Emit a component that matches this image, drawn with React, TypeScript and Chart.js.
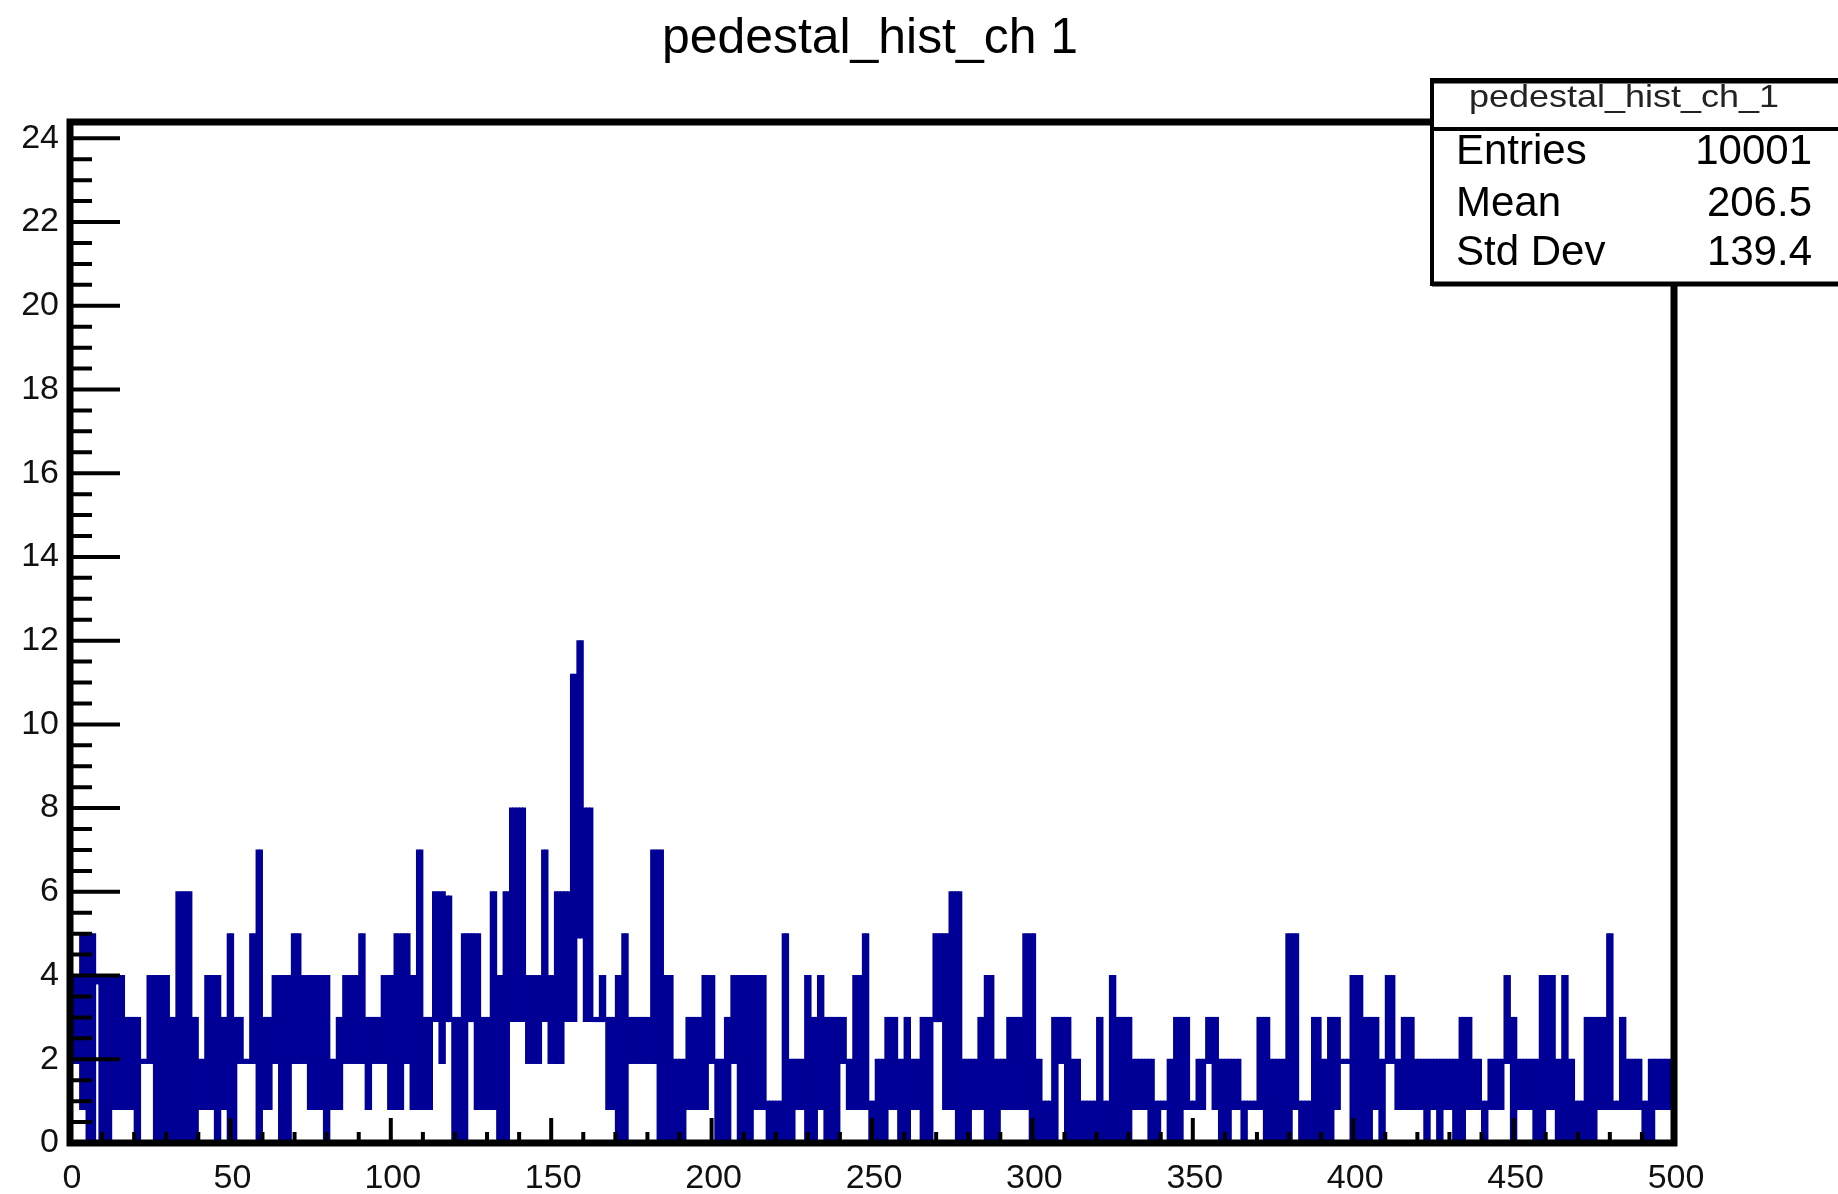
import React, { useEffect, useRef } from "react";
import { Chart, registerables } from "chart.js";

Chart.register(...registerables);

const TITLE = "pedestal_hist_ch 1";
const STATS_NAME = "pedestal_hist_ch_1";
const STATS_LABELS = ["Entries", "Mean", "Std Dev"];
const STATS_VALUES = ["10001", "206.5", "139.4"];

const X_MIN = 0;
const X_MAX = 500;
const Y_MIN = 0;
const Y_MAX = 24.39;
const X_TICK_LABELS = [0, 50, 100, 150, 200, 250, 300, 350, 400, 450, 500];
const Y_TICK_LABELS = [0, 2, 4, 6, 8, 10, 12, 14, 16, 18, 20, 22, 24];
const X_MINOR_STEP = 10;
const Y_MINOR_STEP = 0.5;

// upper edge of the blue fill in each unit-wide column (bin 0..499)
const BIN_HIGH = [
  4, 4, 4, 5, 5, 5, 5, 5, 4, 4,
  4, 4, 4, 4, 4, 4, 4, 3, 3, 3,
  3, 3, 2, 2, 4, 4, 4, 4, 4, 4,
  4, 3, 3, 6, 6, 6, 6, 6, 3, 3,
  2, 2, 4, 4, 4, 4, 4, 3, 3, 5,
  5, 3, 3, 3, 2, 2, 5, 5, 7, 7,
  3, 3, 3, 4, 4, 4, 4, 4, 4, 5,
  5, 5, 4, 4, 4, 4, 4, 4, 4, 4,
  4, 2, 2, 3, 3, 4, 4, 4, 4, 4,
  5, 5, 3, 3, 3, 3, 3, 4, 4, 4,
  4, 5, 5, 5, 5, 5, 4, 4, 7, 7,
  3, 3, 3, 6, 6, 6, 6, 5.9, 5.9, 3,
  3, 3, 5, 5, 5, 5, 5, 5, 3, 3,
  3, 6, 6, 4, 4, 6, 6, 8, 8, 8,
  8, 8, 4, 4, 4, 4, 4, 7, 7, 4,
  4, 6, 6, 6, 6, 6, 11.2, 11.2, 12, 12,
  8, 8, 8, 3, 3, 4, 4, 3, 3, 3,
  4, 4, 5, 5, 3, 3, 3, 3, 3, 3,
  3, 7, 7, 7, 7, 4, 4, 4, 2, 2,
  2, 2, 3, 3, 3, 3, 3, 4, 4, 4,
  4, 2, 2, 2, 3, 3, 4, 4, 4, 4,
  4, 4, 4, 4, 4, 4, 4, 1, 1, 1,
  1, 1, 5, 5, 2, 2, 2, 2, 2, 4,
  4, 3, 3, 4, 4, 3, 3, 3, 3, 3,
  3, 3, 2, 2, 4, 4, 4, 5, 5, 1,
  1, 2, 2, 2, 3, 3, 3, 3, 2, 2,
  3, 3, 2, 2, 2, 3, 3, 3, 3, 5,
  5, 5, 5, 5, 6, 6, 6, 6, 2, 2,
  2, 2, 2, 3, 3, 4, 4, 4, 2, 2,
  2, 2, 3, 3, 3, 3, 3, 5, 5, 5,
  5, 2, 2, 1, 1, 1, 3, 3, 3, 3,
  3, 3, 2, 2, 2, 1, 1, 1, 1, 1,
  3, 3, 1, 1, 4, 4, 3, 3, 3, 3,
  3, 2, 2, 2, 2, 2, 2, 2, 1, 1,
  1, 1, 2, 2, 3, 3, 3, 3, 3, 1,
  1, 2, 2, 2, 3, 3, 3, 3, 2, 2,
  2, 2, 2, 2, 2, 1, 1, 1, 1, 1,
  3, 3, 3, 3, 2, 2, 2, 2, 2, 5,
  5, 5, 5, 1, 1, 1, 1, 3, 3, 3,
  2, 2, 3, 3, 3, 3, 2, 2, 2, 4,
  4, 4, 4, 3, 3, 3, 3, 3, 2, 2,
  4, 4, 4, 2, 2, 3, 3, 3, 3, 2,
  2, 2, 2, 2, 2, 2, 2, 2, 2, 2,
  2, 2, 2, 3, 3, 3, 3, 2, 2, 2,
  1, 1, 2, 2, 2, 2, 2, 4, 4, 3,
  3, 2, 2, 2, 2, 2, 2, 2, 4, 4,
  4, 4, 4, 2, 2, 4, 4, 2, 2, 1,
  1, 1, 3, 3, 3, 3, 3, 3, 3, 5,
  5, 1, 1, 3, 3, 2, 2, 2, 2, 2,
  1, 1, 2, 2, 2, 2, 2, 2, 2, 2,
];

// lower edge of the blue fill in each column (white gap below it)
const BIN_LOW = [
  1.9, 1.9, 1.9, 0.8, 0.8, 0, 0, 0, 3.8, 0,
  0, 0, 0, 0.8, 0.8, 0.8, 0.8, 0.8, 0.8, 0.8,
  0, 0, 1.9, 1.9, 1.9, 1.9, 0, 0, 0, 0,
  0, 0, 0, 0, 0, 0, 0, 0, 0, 0,
  0.8, 0.8, 0.8, 0.8, 0.8, 0, 0, 0.8, 0.8, 0,
  0, 0, 1.9, 1.9, 1.9, 1.9, 1.9, 1.9, 0, 0,
  0.8, 0.8, 0.8, 1.9, 1.9, 0, 0, 0, 0, 1.9,
  1.9, 1.9, 1.9, 1.9, 0.8, 0.8, 0.8, 0.8, 0.8, 0,
  0, 0.8, 0.8, 0.8, 0.8, 1.9, 1.9, 1.9, 1.9, 1.9,
  1.9, 1.9, 0.8, 0.8, 1.9, 1.9, 1.9, 1.9, 1.9, 0.8,
  0.8, 0.8, 0.8, 0.8, 1.9, 1.9, 0.8, 0.8, 0.8, 0.8,
  0.8, 0.8, 0.8, 2.9, 2.9, 1.9, 1.9, 2.9, 2.9, 0,
  0, 0, 0, 0, 2.9, 2.9, 0.8, 0.8, 0.8, 0.8,
  0.8, 0.8, 0.8, 0, 0, 0, 0, 2.9, 2.9, 2.9,
  2.9, 2.9, 1.9, 1.9, 1.9, 1.9, 1.9, 2.9, 2.9, 1.9,
  1.9, 1.9, 1.9, 1.9, 2.9, 2.9, 2.9, 2.9, 4.9, 4.9,
  2.9, 2.9, 2.9, 2.9, 2.9, 2.9, 2.9, 0.8, 0.8, 0.8,
  0, 0, 0, 0, 1.9, 1.9, 1.9, 1.9, 1.9, 1.9,
  1.9, 1.9, 1.9, 0, 0, 0, 0, 0, 0, 0,
  0, 0, 0.8, 0.8, 0.8, 0.8, 0.8, 0.8, 0.8, 1.9,
  1.9, 0, 0, 0, 0, 0, 1.9, 1.9, 0, 0,
  0, 0, 0, 0.8, 0.8, 0.8, 0.8, 0, 0, 0,
  0, 0, 0, 0, 0, 0, 0.8, 0.8, 0.8, 0,
  0, 0, 0, 0.8, 0.8, 0, 0, 0, 0, 0,
  1.9, 1.9, 0.8, 0.8, 0.8, 0.8, 0.8, 0.8, 0.8, 0,
  0, 0, 0, 0, 0, 0.8, 0.8, 0.8, 0, 0,
  0, 0, 0.8, 0.8, 0.8, 0, 0, 0, 0, 2.9,
  2.9, 2.9, 0.8, 0.8, 0.8, 0.8, 0, 0, 0, 0,
  0, 0.8, 0.8, 0.8, 0.8, 0, 0, 0, 0, 0,
  0.8, 0.8, 0.8, 0.8, 0.8, 0.8, 0.8, 0.8, 0.8, 0,
  0, 0, 0, 0, 0, 0, 0, 0, 1.9, 1.9,
  0, 0, 0, 0, 0, 0, 0, 0, 0, 0,
  0, 0, 0, 0, 0, 0, 0, 0, 0, 0,
  0, 0.8, 0.8, 0.8, 0.8, 0.8, 0, 0, 0, 0,
  0.8, 0.8, 0, 0, 0, 0, 0, 0.8, 0.8, 0.8,
  0.8, 0.8, 0.8, 0.8, 1.9, 1.9, 0.8, 0.8, 0, 0,
  0, 0, 0.8, 0.8, 0.8, 0, 0, 0.8, 0.8, 0.8,
  0.8, 0.8, 0, 0, 0, 0, 0, 0, 0, 0,
  0, 0.8, 0.8, 0, 0, 0, 0, 0, 0, 0,
  0, 0, 0, 0, 0.8, 0.8, 1.9, 1.9, 1.9, 0,
  0, 0, 0, 0, 0, 0, 0.8, 0.8, 0, 0,
  1.9, 1.9, 1.9, 0.8, 0.8, 0.8, 0.8, 0.8, 0.8, 0.8,
  0.8, 0.8, 0, 0, 0.8, 0.8, 0, 0, 0.8, 0.8,
  0.8, 0, 0, 0, 0, 0.8, 0.8, 0.8, 0.8, 0.8,
  0, 0, 0.8, 0.8, 0.8, 0.8, 0.8, 1.9, 1.9, 0,
  0, 0.8, 0.8, 0.8, 0.8, 0.8, 0, 0, 0, 0,
  0.8, 0.8, 0.8, 0, 0, 0, 0, 0, 0, 0,
  0, 0, 0, 0, 0, 0, 0.8, 0.8, 0.8, 0.8,
  0.8, 0.8, 0.8, 0.8, 0.8, 0.8, 0.8, 0.8, 0.8, 0.8,
  0, 0, 0, 0, 0.8, 0.8, 0.8, 0.8, 0.8, 0.8,
];

const FILL = "#000096";
const FONT = '"Liberation Sans", Arial, Helvetica, sans-serif';

const rootPlotPlugin = {
  id: "rootPlotDecor",
  afterDatasetsDraw(chart: any) {
    const ctx = chart.ctx as CanvasRenderingContext2D;
    const xs = chart.scales.x;
    const ys = chart.scales.y;
    const area = chart.chartArea;
    const W = chart.width;
    ctx.save();
    ctx.strokeStyle = "#000";
    ctx.fillStyle = "#111";

    // y ticks (inward)
    ctx.lineWidth = 4;
    ctx.beginPath();
    for (let v = Y_MIN; v <= Y_MAX + 1e-6; v += Y_MINOR_STEP) {
      const y = ys.getPixelForValue(v);
      const major = Math.abs(v / 2 - Math.round(v / 2)) < 1e-6;
      ctx.moveTo(area.left, y);
      ctx.lineTo(area.left + (major ? 50 : 22), y);
    }
    ctx.stroke();

    // x ticks (inward)
    ctx.beginPath();
    for (let v = X_MIN; v <= X_MAX + 1e-6; v += X_MINOR_STEP) {
      const x = xs.getPixelForValue(v);
      const major = v % 50 === 0;
      ctx.moveTo(x, area.bottom);
      ctx.lineTo(x, area.bottom - (major ? 25 : 11));
    }
    ctx.stroke();

    // frame
    ctx.lineWidth = 7;
    ctx.strokeRect(area.left, area.top, area.right - area.left, area.bottom - area.top);

    // tick labels
    ctx.font = `34px ${FONT}`;
    ctx.textAlign = "right";
    ctx.textBaseline = "middle";
    Y_TICK_LABELS.forEach((v) => {
      ctx.fillText(String(v), area.left - 11, ys.getPixelForValue(v));
    });
    ctx.textAlign = "center";
    ctx.textBaseline = "alphabetic";
    X_TICK_LABELS.forEach((v) => {
      ctx.fillText(String(v), xs.getPixelForValue(v) + 2, 1188);
    });

    // title
    ctx.font = `50px ${FONT}`;
    ctx.fillStyle = "#000";
    const tw = ctx.measureText(TITLE).width;
    ctx.save();
    ctx.translate(870, 53);
    ctx.scale(416 / tw, 1);
    ctx.textAlign = "center";
    ctx.fillText(TITLE, 0, 0);
    ctx.restore();

    // stats box
    const bx = 1432, by = 80, bb = 284;
    ctx.fillStyle = "#fff";
    ctx.fillRect(bx, by, W - bx + 10, bb - by);
    ctx.lineWidth = 4;
    ctx.strokeStyle = "#000";
    ctx.strokeRect(bx, by, W - bx + 10, bb - by);
    ctx.lineWidth = 5;
    ctx.beginPath();
    ctx.moveTo(bx, by + 1);
    ctx.lineTo(W, by + 1);
    ctx.moveTo(bx, bb);
    ctx.lineTo(W, bb);
    ctx.stroke();
    ctx.lineWidth = 4;
    ctx.beginPath();
    ctx.moveTo(bx, 129);
    ctx.lineTo(W, 129);
    ctx.stroke();

    ctx.fillStyle = "#222";
    ctx.font = `32px ${FONT}`;
    const hw = ctx.measureText(STATS_NAME).width;
    ctx.save();
    ctx.translate(1624, 98);
    ctx.scale(310 / hw, 1);
    ctx.textAlign = "center";
    ctx.textBaseline = "middle";
    ctx.fillText(STATS_NAME, 0, 0);
    ctx.restore();

    ctx.fillStyle = "#000";
    ctx.font = `42px ${FONT}`;
    ctx.textBaseline = "middle";
    const rowsY = [152, 204, 253];
    STATS_LABELS.forEach((lab, i) => {
      ctx.textAlign = "left";
      ctx.fillText(lab, 1456, rowsY[i]);
      ctx.textAlign = "right";
      ctx.fillText(STATS_VALUES[i], 1812, rowsY[i]);
    });

    ctx.restore();
  },
};

export default function App() {
  const canvasRef = useRef<HTMLCanvasElement | null>(null);

  useEffect(() => {
    document.body.style.margin = "0";
    document.body.style.background = "#fff";
    const canvas = canvasRef.current;
    if (!canvas) return;
    const points = BIN_HIGH.map((h, i) => ({ x: i + 0.5, y: [BIN_LOW[i], h] }));
    const chart = new Chart(canvas, {
      type: "bar",
      data: {
        datasets: [
          {
            label: "pedestal_hist_ch_1",
            data: points as any,
            backgroundColor: FILL,
            borderWidth: 0,
            inflateAmount: 0.5,
            barPercentage: 1,
            categoryPercentage: 1,
          } as any,
        ],
      },
      options: {
        animation: false,
        responsive: false,
        maintainAspectRatio: false,
        devicePixelRatio: 1,
        layout: { padding: { left: 70, right: 164, top: 122, bottom: 51 } },
        plugins: {
          legend: { display: false },
          title: { display: false },
          tooltip: { enabled: false },
        },
        scales: {
          x: { type: "linear", min: X_MIN, max: X_MAX, display: false, offset: false },
          y: { type: "linear", min: Y_MIN, max: Y_MAX, display: false },
        },
      },
      plugins: [rootPlotPlugin],
    });
    return () => chart.destroy();
  }, []);

  return (
    <div style={{ width: 1838, height: 1194, overflow: "hidden", background: "#fff" }}>
      <canvas ref={canvasRef} width={1838} height={1194} style={{ display: "block" }} />
    </div>
  );
}
